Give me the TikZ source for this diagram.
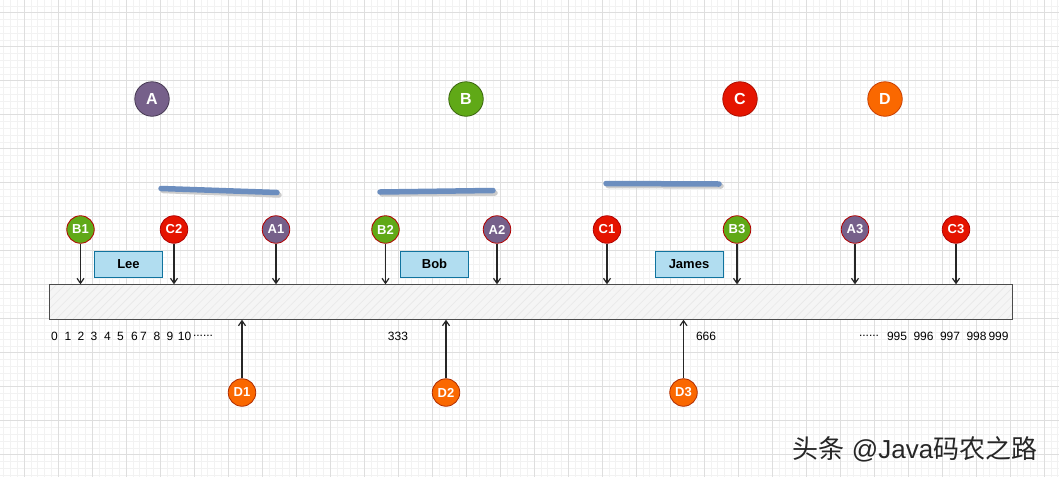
\documentclass[tikz,border=0pt]{standalone}
\usepackage{fontspec}
\setmainfont{Liberation Sans}
\newfontfamily\cjk{Noto Sans CJK SC}
\usetikzlibrary{arrows.meta,patterns.meta}
\definecolor{apurple}{HTML}{76608A}
\definecolor{bgreen}{HTML}{60A917}
\definecolor{cred}{HTML}{E51400}
\definecolor{dorange}{HTML}{FA6800}
\definecolor{strokeblue}{HTML}{6C8EBF}
\definecolor{boxfill}{HTML}{B1DDF0}
\definecolor{boxline}{HTML}{10739E}

\begin{document}
\begin{tikzpicture}[x=1pt, y=-1pt,
  gridminor/.style={draw=black!5, line width=0.6pt},
  gridmajor/.style={draw=black!13, line width=0.8pt},
  bigdot/.style={circle, minimum size=34.5pt, inner sep=0pt, line width=0.8pt, text=white, font=\bfseries\fontsize{16}{16}\selectfont},
  dot/.style={circle, minimum size=27.5pt, inner sep=0pt, line width=0.8pt, draw=red!70!black, text=white, font=\bfseries\fontsize{13}{13}\selectfont},
  namebox/.style={draw=boxline, fill=boxfill, line width=0.8pt, minimum width=68pt, minimum height=26pt, inner sep=0pt, font=\bfseries\fontsize{13}{13}\selectfont},
  num/.style={inner sep=0pt, font=\fontsize{12}{12}\selectfont},
  hit/.style={draw=black!85, line width=1.2pt, -{Straight Barb[length=5pt,width=7pt]}},
  stroke/.style={line width=5.5pt, line cap=round, draw=strokeblue}]
\useasboundingbox (0,0) rectangle (1059,477);
\fill[white] (0,0) rectangle (1059,477);
\foreach \i in {0,...,155} \draw[gridminor] ({3.6+6.8*\i},0) -- ({3.6+6.8*\i},477);
\foreach \i in {0,...,69} \draw[gridminor] (0,{5.9+6.8*\i}) -- (1059,{5.9+6.8*\i});
\foreach \i in {0,...,30} \draw[gridmajor] ({24+34*\i},0) -- ({24+34*\i},477);
\foreach \i in {0,...,13} \draw[gridmajor] (0,{12.7+34*\i}) -- (1059,{12.7+34*\i});

\node[bigdot, fill=apurple, draw=apurple!60!black] (A) at (152,99) {A};
\node[bigdot, fill=bgreen, draw=bgreen!60!black] (B) at (466,99) {B};
\node[bigdot, fill=cred, draw=cred!75!black] (C) at (740,99) {C};
\node[bigdot, fill=dorange, draw=dorange!75!red!80!black] (D) at (885,99) {D};

\draw[stroke, draw=black!20] (163,190.5) -- (279,195);
\draw[stroke] (161,188.5) -- (277,192.5);
\draw[stroke, draw=black!20] (382,194) -- (495,193);
\draw[stroke] (380,192) -- (493,190.5);
\draw[stroke, draw=black!20] (608,185.5) -- (721,186);
\draw[stroke] (606,183.5) -- (719,184);

\node[fill=black!4, minimum width=962pt, minimum height=35pt, inner sep=0pt,
  postaction={pattern={Lines[angle=45, distance=6pt, line width=0.6pt]}, pattern color=black!9}] (ring) at (531,302) {};
\draw[black!70, line width=1.3pt] (ring.north west) rectangle (ring.south east);

\node[dot, fill=bgreen] (B1) at (80.5,229.5) {B1};
\node[dot, fill=cred] (C2) at (174,229.5) {C2};
\node[dot, fill=apurple] (A1) at (276,229.5) {A1};
\node[dot, fill=bgreen] (B2) at (385.5,229.5) {B2};
\node[dot, fill=apurple] (A2) at (497,229.5) {A2};
\node[dot, fill=cred] (C1) at (607,229.5) {C1};
\node[dot, fill=bgreen] (B3) at (737,229.5) {B3};
\node[dot, fill=apurple] (A3) at (855,229.5) {A3};
\node[dot, fill=cred] (C3) at (956,229.5) {C3};

\node[namebox] (lee) at (128.5,264) {Lee};
\node[namebox] (bob) at (434.5,264) {Bob};
\node[namebox] (james) at (689,264) {James};

\foreach \n in {B1,C2,A1,B2,A2,C1,B3,A3,C3}
  \draw[hit] (\n) -- (\n |- ring.north);

\node[dot, fill=dorange, draw=dorange!60!red!70!black] (D1) at (242,392.5) {D1};
\node[dot, fill=dorange, draw=dorange!60!red!70!black] (D2) at (446,392.5) {D2};
\node[dot, fill=dorange, draw=dorange!60!red!70!black] (D3) at (683.5,392.5) {D3};
\foreach \n in {D1,D2,D3}
  \draw[hit] (\n) -- (\n |- ring.south);

\foreach \v/\x in {0/54.5,1/68,2/81,3/94,4/107.5,5/120.5,6/134.5,7/143.5,8/157,9/170,10/184.5,333/398,666/706,995/897,996/923.5,997/950,998/976.5,999/998.5}
  \node[num] at (\x,336) {\v};
\node[num] (dotsl) at (203,336) {......};
\node[num] (dotsr) at (869,336) {......};

\node[font=\fontsize{26}{26}\selectfont, text=black!85, inner sep=0pt] (mark) at (915,449) {{\cjk 头条} @Java{\cjk 码农之路}};
\end{tikzpicture}
\end{document}
